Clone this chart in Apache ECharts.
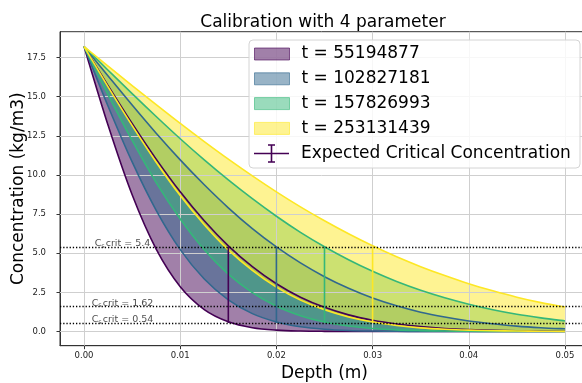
<!DOCTYPE html>
<html><head><meta charset="utf-8">
<script src="https://cdn.jsdelivr.net/npm/echarts@6/dist/echarts.min.js"></script>
<style>html,body{margin:0;padding:0;background:#fff}#c{width:582px;height:383px}</style>
</head><body><div id="c"></div><script>
// ---- data ----
const depth = [0, 0.0025, 0.005, 0.0075, 0.01, 0.0125, 0.015, 0.0175, 0.02, 0.0225, 0.025, 0.0275, 0.03, 0.0325, 0.035, 0.0375, 0.04, 0.0425, 0.045, 0.0475, 0.05];
const timeLabels = ['t = 55194877', 't = 102827181', 't = 157826993', 't = 253131439'];
const lower1 = [18.2, 13.17, 8.73, 5.26, 2.86, 1.40, 0.62, 0.24, 0.085, 0.027, 0.008, 0.002, 0, 0, 0, 0, 0, 0, 0, 0, 0];
const upper1 = [18.2, 15.71, 13.29, 11.01, 8.92, 7.07, 5.47, 4.14, 3.05, 2.19, 1.54, 1.06, 0.72, 0.48, 0.31, 0.19, 0.12, 0.075, 0.045, 0.027, 0.016];
const lower2 = [18.2, 14.39, 10.83, 7.74, 5.23, 3.35, 2.02, 1.14, 0.61, 0.30, 0.144, 0.064, 0.027, 0.010, 0.004, 0.001, 0, 0, 0, 0, 0];
const upper2 = [18.2, 16.32, 14.46, 12.66, 10.96, 9.37, 7.90, 6.57, 5.40, 4.38, 3.50, 2.76, 2.14, 1.64, 1.23, 0.92, 0.67, 0.49, 0.34, 0.24, 0.17];
const lower3 = [18.2, 15.12, 12.20, 9.51, 7.18, 5.22, 3.66, 2.48, 1.61, 1.01, 0.60, 0.35, 0.19, 0.10, 0.053, 0.026, 0.012, 0.006, 0.002, 0.001, 0];
const upper3 = [18.2, 16.69, 15.19, 13.73, 12.31, 10.96, 9.68, 8.48, 7.36, 6.33, 5.41, 4.58, 3.84, 3.19, 2.63, 2.15, 1.74, 1.39, 1.10, 0.87, 0.67];
const lower4 = [18.2, 15.63, 13.15, 10.81, 8.68, 6.82, 5.21, 3.90, 2.83, 2.00, 1.38, 0.92, 0.60, 0.38, 0.23, 0.14, 0.082, 0.047, 0.026, 0.014, 0.007];
const upper4 = [18.2, 16.95, 15.71, 14.49, 13.29, 12.13, 11.01, 9.94, 8.92, 7.96, 7.07, 6.24, 5.47, 4.77, 4.14, 3.57, 3.05, 2.60, 2.19, 1.84, 1.56];
const errX = [0.015, 0.02, 0.025, 0.03];
const errLow = [0.54, 0.54, 0.54, 0.54];
const errHigh = [5.4, 5.4, 5.4, 5.4];
const errName = 'Expected Critical Concentration';
const critValues = [5.4, 1.62, 0.54];
const critText = ['5.4', '1.62', '0.54'];
const critLabelX = 0.004;
const xTicks = [0, 0.01, 0.02, 0.03, 0.04, 0.05];
const yTicks = [0, 2.5, 5, 7.5, 10, 12.5, 15, 17.5];
const colors = ['#440154', '#31688e', '#35b779', '#fde725'];

const lowers = [lower1, lower2, lower3, lower4];
const uppers = [upper1, upper2, upper3, upper4];
function rgba(hex, a) {
  const n = parseInt(hex.slice(1), 16);
  return 'rgba(' + (n >> 16 & 255) + ',' + (n >> 8 & 255) + ',' + (n & 255) + ',' + a + ')';
}
const FONT = 'DejaVu Sans';

// smooth (monotone-clamped Catmull-Rom) path through pixel points
function curveCmds(pts, start) {
  const n = pts.length;
  let d = (start ? 'M' : 'L') + pts[0][0].toFixed(2) + ' ' + pts[0][1].toFixed(2);
  const t = 1 / 6;
  for (let i = 0; i < n - 1; i++) {
    const p0 = pts[Math.max(i - 1, 0)], p1 = pts[i], p2 = pts[i + 1], p3 = pts[Math.min(i + 2, n - 1)];
    let c1x = p1[0] + (p2[0] - p0[0]) * t, c1y = p1[1] + (p2[1] - p0[1]) * t;
    let c2x = p2[0] - (p3[0] - p1[0]) * t, c2y = p2[1] - (p3[1] - p1[1]) * t;
    const lo = Math.min(p1[1], p2[1]), hi = Math.max(p1[1], p2[1]);
    c1y = Math.min(hi, Math.max(lo, c1y)); c2y = Math.min(hi, Math.max(lo, c2y));
    d += ' C' + c1x.toFixed(2) + ' ' + c1y.toFixed(2) + ' ' + c2x.toFixed(2) + ' ' + c2y.toFixed(2) + ' ' + p2[0].toFixed(2) + ' ' + p2[1].toFixed(2);
  }
  return d;
}
function collect(api, n, dim) {
  const pts = [];
  for (let i = 0; i < n; i++) pts.push(api.coord([api.value(0, i), api.value(dim, i)]));
  return pts;
}

const series = [];
// bands (fill between lower and upper)
for (let k = 0; k < 4; k++) {
  series.push({
    type: 'custom', name: timeLabels[k], silent: true, z: 1, clip: true,
    itemStyle: { color: rgba(colors[k], 0.5) },
    data: depth.map((x, i) => [x, lowers[k][i], uppers[k][i]]),
    encode: { x: 0, y: [1, 2] },
    renderItem: (params, api) => {
      if (params.dataIndexInside !== 0) return null;
      const n = params.dataInsideLength;
      const lo = collect(api, n, 1), up = collect(api, n, 2).reverse();
      return { type: 'path', shape: { pathData: curveCmds(lo, true) + ' ' + curveCmds(up, false) + ' Z' },
        style: { fill: rgba(colors[k], 0.5), stroke: null } };
    }
  });
}
// grid lines (above fills, below lines)
series.push({
  type: 'line', name: '_grid', data: [], silent: true, z: 2,
  markLine: {
    z: 2, silent: true, symbol: ['none', 'none'], label: { show: false }, animation: false,
    lineStyle: { color: '#cfcfcf', width: 1, type: 'solid' },
    data: xTicks.map(v => ({ xAxis: v })).concat(yTicks.map(v => ({ yAxis: v })))
  }
});
// boundary lines
for (let k = 0; k < 4; k++) {
  series.push({
    type: 'custom', name: '_lines' + k, silent: true, z: 3, clip: true,
    data: depth.map((x, i) => [x, lowers[k][i], uppers[k][i]]),
    encode: { x: 0, y: [1, 2] },
    renderItem: (params, api) => {
      if (params.dataIndexInside !== 0) return null;
      const n = params.dataInsideLength;
      return { type: 'group', children: [1, 2].map(dim => ({
        type: 'path', shape: { pathData: curveCmds(collect(api, n, dim), true) },
        style: { fill: null, stroke: colors[k], lineWidth: 1.6 } })) };
    }
  });
}
// error bars
for (let k = 0; k < 4; k++) {
  series.push({
    type: 'line', name: k === 0 ? errName : '_err' + k, silent: true, z: 6,
    data: [[errX[k], errLow[k]], [errX[k], errHigh[k]]],
    symbol: 'none', lineStyle: { color: colors[k], width: 1.6 }, itemStyle: { color: colors[k] }
  });
}
// critical horizontal lines + labels
series.push({
  type: 'scatter', name: '_crit', silent: true, z: 7, symbolSize: 0,
  data: critValues.map(v => [critLabelX, v]),
  label: {
    show: true, position: 'inside', offset: [0, -3],
    formatter: p => '{n|C}{s|s}{n|crit = ' + critText[p.dataIndex] + '}',
    rich: {
      n: { fontFamily: FONT, fontSize: 9.5, color: '#222' },
      s: { fontFamily: FONT, fontSize: 6.5, color: '#222', padding: [5, 1, 0, 0] }
    }
  },
  markLine: {
    z: 7, silent: true, symbol: ['none', 'none'], label: { show: false }, animation: false,
    lineStyle: { color: '#000', width: 1.3, type: [1.3, 1.9] },
    data: critValues.map(v => ({ yAxis: v }))
  }
});

const legendIconErr = 'path://M0,8.5h35v1.6h-35z M16.7,0h1.6v18.6h-1.6z M14,0h7v1.5h-7z M14,17.1h7v1.5h-7z';
const chart = echarts.init(document.getElementById('c'), null, { renderer: 'canvas' });
chart.setOption({
  animation: false,
  backgroundColor: '#fff',
  title: {
    text: 'Calibration with 4 parameter', left: 318, textAlign: 'center', top: 9,
    textStyle: { fontFamily: FONT, fontSize: 17, fontWeight: 'normal', color: '#000' }
  },
  grid: { left: 60, right: -7, top: 31.7, bottom: 37.3, containLabel: false, outerBoundsMode: 'none',
    show: true, borderColor: '#333', borderWidth: 1, backgroundColor: 'transparent' },
  xAxis: {
    type: 'value', min: -0.0025, max: 0.0525,
    name: 'Depth (m)', nameLocation: 'middle', nameGap: 19, nameMoveOverlap: false,
    nameTextStyle: { fontFamily: FONT, fontSize: 17, color: '#000' },
    axisLine: { show: true, onZero: false, lineStyle: { color: '#333', width: 1 } },
    axisTick: { show: true, length: 3.5, customValues: xTicks, lineStyle: { color: '#333' } },
    axisLabel: { customValues: xTicks, formatter: v => v.toFixed(2), fontFamily: FONT, fontSize: 8.5, color: '#222', margin: 6 },
    splitLine: { show: false }
  },
  yAxis: {
    type: 'value', min: -0.91, max: 19.15,
    name: 'Concentration (kg/m3)', nameLocation: 'middle', nameGap: 33, nameRotate: 90, nameMoveOverlap: false,
    nameTextStyle: { fontFamily: FONT, fontSize: 17, color: '#000' },
    axisLine: { show: true, onZero: false, lineStyle: { color: '#333', width: 1 } },
    axisTick: { show: true, length: 3.5, customValues: yTicks, lineStyle: { color: '#333' } },
    axisLabel: { customValues: yTicks, formatter: v => v.toFixed(1), fontFamily: FONT, fontSize: 8.5, color: '#222', margin: 14 },
    splitLine: { show: false }
  },
  graphic: [{
    type: 'rect', z: 50, silent: true,
    shape: { x: 249, y: 40, width: 331, height: 128, r: 4 },
    style: { fill: 'rgba(255,255,255,0.82)', stroke: '#d4d4d4', lineWidth: 1 }
  }],
  legend: [{
    z: 60, orient: 'vertical', left: 254, top: 44, padding: 0, itemGap: 4.8,
    itemWidth: 35, itemHeight: 12, selectedMode: false,
    textStyle: { fontFamily: FONT, fontSize: 17, color: '#000', lineHeight: 20, padding: [0, 0, 0, 7] },
    data: timeLabels.map((n, k) => ({ name: n, icon: 'rect', itemStyle: { color: rgba(colors[k], 0.5), borderColor: rgba(colors[k], 0.6), borderWidth: 1 } }))
  }, {
    z: 60, orient: 'vertical', left: 254, top: 143.5, padding: 0,
    itemWidth: 35, itemHeight: 18.6, selectedMode: false,
    textStyle: { fontFamily: FONT, fontSize: 17, color: '#000', lineHeight: 20, padding: [0, 0, 0, 7] },
    data: [{ name: errName, icon: legendIconErr, itemStyle: { color: colors[0] } }]
  }],
  series: series
});
</script></body></html>
